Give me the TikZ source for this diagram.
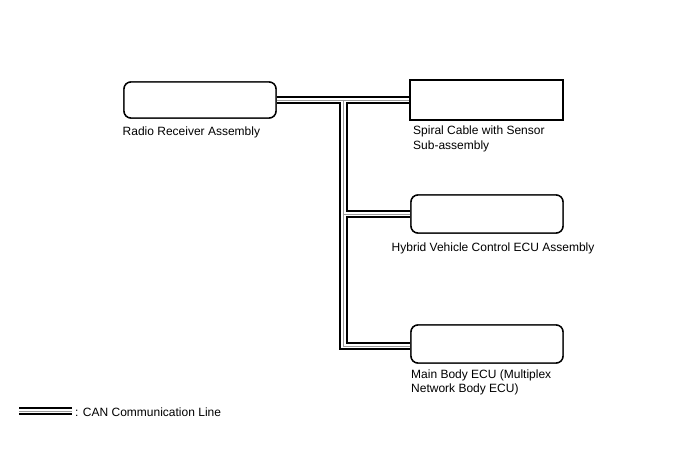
\documentclass[tikz,border=0pt]{standalone}
\usepackage{fontspec}
\setmainfont{Liberation Sans}
\begin{document}
\begin{tikzpicture}[x=1bp,y=-1bp,
  ecubox/.style={draw=black,line width=1.4bp,fill=white,rounded corners=7bp,inner sep=0pt},
  sqbox/.style={draw=black,line width=1.4bp,fill=white,inner sep=0pt},
  lbl/.style={anchor=base west,inner sep=0pt,font=\fontsize{12bp}{14.5bp}\selectfont,align=left},
  canblack/.style={line width=8.5bp,black,line cap=butt,line join=miter},
  canwhite/.style={line width=4.2bp,white,line cap=butt,line join=miter},
  cangray/.style={line width=0.8bp,black!40,line cap=butt,line join=miter}]
\useasboundingbox (0,0) rectangle (688,463);
% node positions (boxes drawn later, on top of cables)
\path node[ecubox,minimum width=152bp,minimum height=36bp] (radio) at (200,100) {};
\path node[sqbox,minimum width=153bp,minimum height=40bp] (spiral) at (486.5,100) {};
\path node[ecubox,minimum width=152bp,minimum height=38bp] (hybrid) at (487,214) {};
\path node[ecubox,minimum width=152bp,minimum height=38bp] (main) at (487,344) {};
\coordinate (jtop) at (343.5,100);
\coordinate (jhyb) at (343.5,214);
\coordinate (jbot) at (343.5,346);
\coordinate (legA) at (19,411);
\coordinate (legB) at (72,411);
% CAN lines: three passes
\foreach \s in {canblack,canwhite,cangray}{
  \draw[\s] (radio.east) -- (spiral.west);
  \draw[\s] (jtop) -- (jbot) -- (jbot -| main.west);
  \draw[\s] (jhyb) -- (jhyb -| hybrid.west);
  \draw[\s] (legA) -- (legB);
}
% boxes on top
\node[ecubox,minimum width=152bp,minimum height=36bp] at (radio) {};
\node[sqbox,minimum width=153bp,minimum height=40bp] at (spiral) {};
\node[ecubox,minimum width=152bp,minimum height=38bp] at (hybrid) {};
\node[ecubox,minimum width=152bp,minimum height=38bp] at (main) {};
% labels (base = baseline of last line)
\node[lbl] (tradio) at (122.5,135.5) {Radio Receiver Assembly};
\node[lbl] (tspiral) at (413,149.5) {Spiral Cable with Sensor\\Sub-assembly};
\node[lbl] (thybrid) at (391.5,251.5) {Hybrid Vehicle Control ECU Assembly};
\node[lbl] (tmain) at (411,392.5) {Main Body ECU (Multiplex\\Network Body ECU)};
\node[lbl] (tleg) at (75,416) {: CAN Communication Line};
\end{tikzpicture}
\end{document}
